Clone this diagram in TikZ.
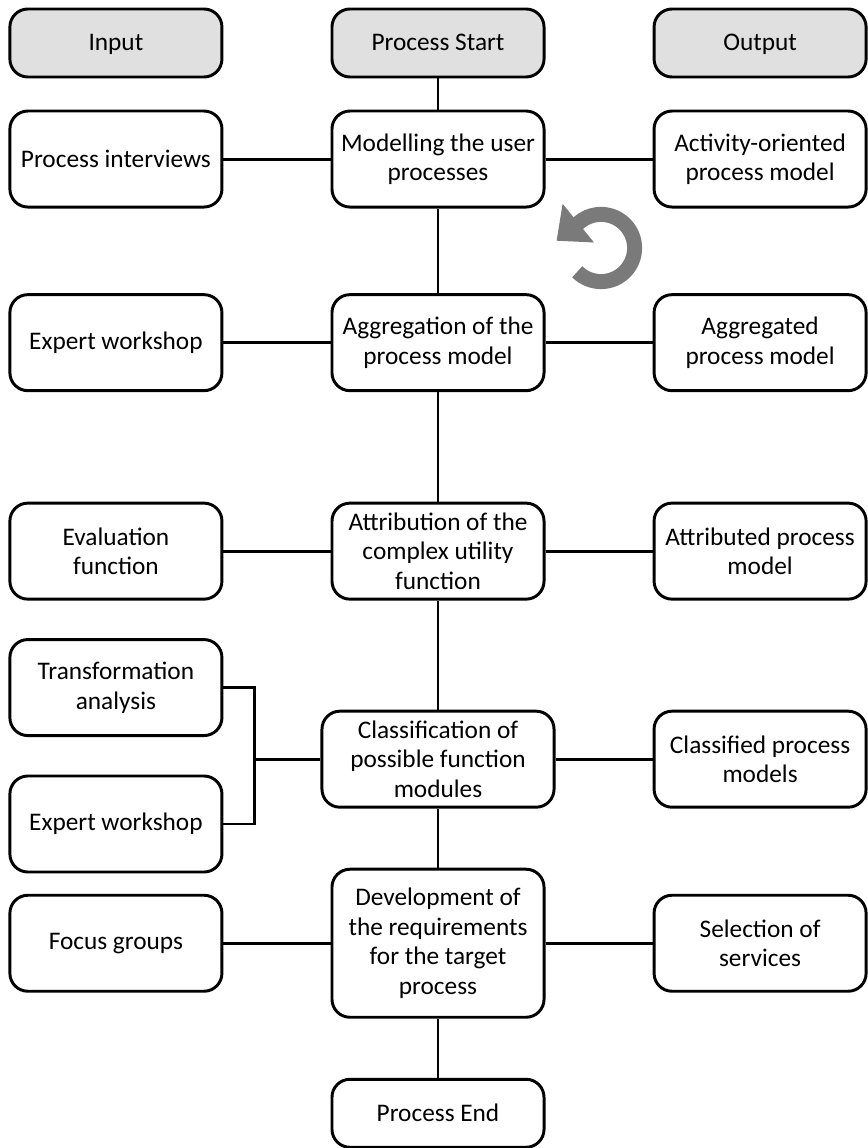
\documentclass[tikz,border=0pt]{standalone}
\usepackage{fontspec}
\setmainfont{Carlito}
\usetikzlibrary{arrows.meta}

\begin{document}
\begin{tikzpicture}[x=0.025cm, y=-0.025cm, line width=2.1pt,
    box/.style={draw, rounded corners=0.45cm, minimum width=5.3cm, minimum height=2.4cm, align=center, font=\fontsize{18}{21}\selectfont},
    headbox/.style={box, fill=black!12, minimum height=1.7cm, text height=2.5ex, text depth=0.2ex},
    loopring/.style={draw=black!52, line width=0.375cm, -{Triangle[length=0.7cm,width=1.2cm]}}]
\useasboundingbox (0,0) rectangle (867,1148);

\node[headbox] (start) at (438,43) {Process Start};
\node[headbox, left of=start, node distance=8.05cm] (input) {Input};
\node[headbox, right of=start, node distance=8.05cm] (output) {Output};

\node[box, below of=start, node distance=2.9cm] (model) {Modelling the user\\processes};
\node[box, left of=model, node distance=8.05cm] (model_in) {Process interviews};
\node[box, right of=model, node distance=8.05cm] (model_out) {Activity-oriented\\process model};

\node[box, below of=model, node distance=4.59cm] (aggr) {Aggregation of the\\process model};
\node[box, left of=aggr, node distance=8.05cm] (aggr_in) {Expert workshop};
\node[box, right of=aggr, node distance=8.05cm] (aggr_out) {Aggregated\\process model};

\node[box, below of=aggr, node distance=5.21cm] (attr) {Attribution of the\\complex utility\\function};
\node[box, left of=attr, node distance=8.05cm] (attr_in) {Evaluation\\function};
\node[box, right of=attr, node distance=8.05cm] (attr_out) {Attributed process\\model};

\node[box, below of=attr, node distance=5.2cm, minimum width=5.8cm] (classif) {Classification of\\possible function\\modules};
\node[box, below of=attr_in, node distance=3.41cm] (trans) {Transformation\\analysis};
\node[box, below of=trans, node distance=3.41cm] (classif_in) {Expert workshop};
\node[box, right of=classif, node distance=8.05cm] (classif_out) {Classified process\\models};
\coordinate (join) at ([xshift=-1.65cm]classif.west);

\node[box, below of=classif, node distance=4.6cm, minimum height=3.7cm] (devel) {Development of\\the requirements\\for the target\\process};
\node[box, left of=devel, node distance=8.05cm] (devel_in) {Focus groups};
\node[box, right of=devel, node distance=8.05cm] (devel_out) {Selection of\\services};

\node[headbox, fill=none, below of=devel, node distance=4.25cm] (end) {Process End};

% main chain
\draw (start) -- (model);
\draw (model) -- (aggr);
\draw (aggr) -- (attr);
\draw (attr) -- (classif);
\draw (classif) -- (devel);
\draw (devel) -- (end);

% inputs and outputs
\draw (model_in) -- (model) -- (model_out);
\draw (aggr_in) -- (aggr) -- (aggr_out);
\draw (attr_in) -- (attr) -- (attr_out);
\draw (trans.east) -| (join) |- (classif_in.east);
\draw (join) -- (classif) -- (classif_out);
\draw (devel_in) -- (devel) -- (devel_out);

% iteration arrow
\coordinate (cyc) at (601,248);
\draw[loopring] ([shift={(-135:0.84cm)}]cyc) arc[start angle=-135, end angle=129, radius=0.84cm] -- ++(219:0.75cm);
\end{tikzpicture}
\end{document}
